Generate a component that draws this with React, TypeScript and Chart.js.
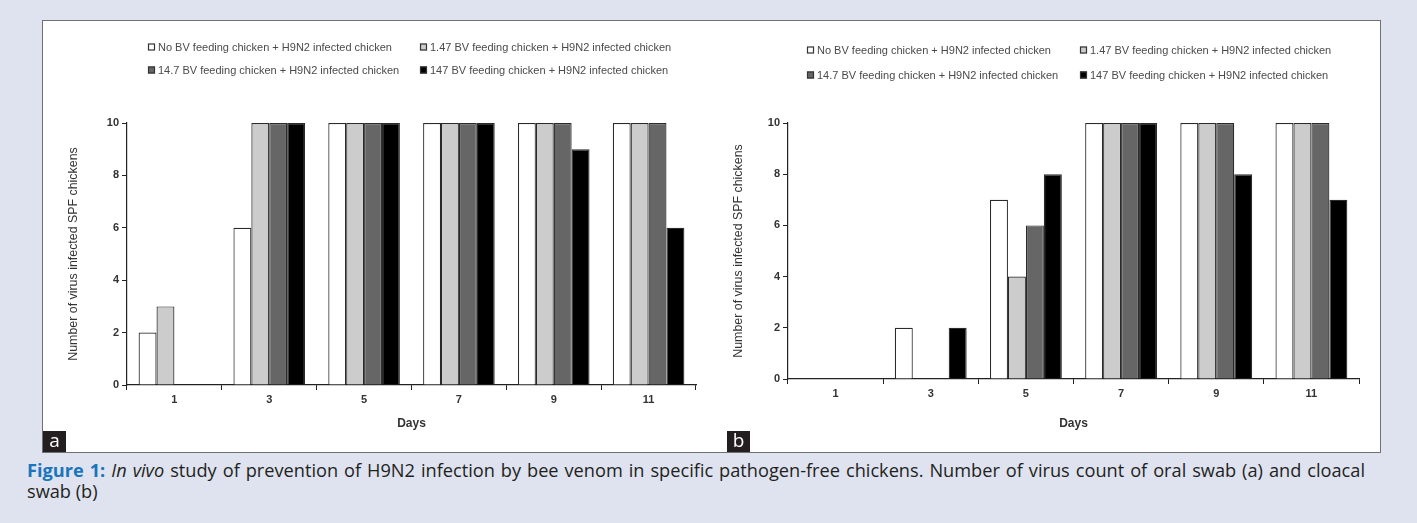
import React, { useEffect, useRef } from 'react';
import { Chart, registerables } from 'chart.js';

Chart.register(...registerables);

// ---------- data ----------
const days = ['1', '3', '5', '7', '9', '11'];
const seriesNames = [
  'No BV feeding chicken + H9N2 infected chicken',
  '1.47 BV feeding chicken + H9N2 infected chicken',
  '14.7 BV feeding chicken + H9N2 infected chicken',
  '147 BV feeding chicken + H9N2 infected chicken',
];
const seriesColors = ['#ffffff', '#cccccc', '#666666', '#000000'];

// (a) oral swab
const oralNoBV = [2, 6, 10, 10, 10, 10];
const oralBV1_47 = [3, 10, 10, 10, 10, 10];
const oralBV14_7 = [0, 10, 10, 10, 10, 10];
const oralBV147 = [0, 10, 10, 10, 9, 6];

// (b) cloacal swab
const cloacalNoBV = [0, 2, 7, 10, 10, 10];
const cloacalBV1_47 = [0, 0, 4, 10, 10, 10];
const cloacalBV14_7 = [0, 0, 6, 10, 10, 10];
const cloacalBV147 = [0, 2, 8, 10, 8, 7];

const yMin = 0;
const yMax = 10;
const yStep = 2;

const yTitle = 'Number of virus infected SPF chickens';
const xTitle = 'Days';

const FONT = '"Liberation Sans", Arial, sans-serif';

// custom 2x2 legend drawn by a Chart.js plugin
const gridLegend = {
  id: 'gridLegend',
  afterDraw(chart: any, _args: any, opts: any) {
    const ctx = chart.ctx;
    ctx.save();
    ctx.font = `${opts.fontSize}px ${FONT}`;
    ctx.textBaseline = 'middle';
    ctx.textAlign = 'left';
    chart.data.datasets.forEach((ds: any, i: number) => {
      const col = i % 2;
      const row = Math.floor(i / 2);
      const x = opts.xs[col];
      const y = opts.ys[row];
      const s = 7;
      ctx.fillStyle = ds.backgroundColor;
      ctx.fillRect(x, y - s / 2, s, s);
      ctx.strokeStyle = '#333';
      ctx.lineWidth = 1.2;
      ctx.strokeRect(x + 0.5, y - s / 2 + 0.5, s - 1, s - 1);
      ctx.fillStyle = '#4a4a4a';
      ctx.fillText(ds.label, x + s + 3, y + 0.5);
    });
    ctx.restore();
  },
};

type PanelCfg = {
  values: number[][];
  width: number;
  height: number;
  plotLeft: number;
  plotRight: number;
  plotTop: number;
  plotBottom: number;
  yTitlePad: number;
  legendXs: number[];
  legendYs: number[];
};

function Panel({ cfg }: { cfg: PanelCfg }) {
  const ref = useRef<HTMLCanvasElement | null>(null);
  useEffect(() => {
    if (!ref.current) return;
    const chart = new Chart(ref.current, {
      type: 'bar',
      data: {
        labels: days,
        datasets: cfg.values.map((v, i) => ({
          label: seriesNames[i],
          data: v,
          backgroundColor: seriesColors[i],
          borderColor: '#2a2a2a',
          borderWidth: 1.2,
          barPercentage: 1,
          categoryPercentage: 0.755,
        })),
      },
      options: {
        animation: false,
        responsive: false,
        devicePixelRatio: 1,
        layout: {
          padding: {
            left: 0,
            top: cfg.plotTop,
            right: cfg.width - cfg.plotRight,
            bottom: 0,
          },
        },
        plugins: {
          legend: { display: false },
          tooltip: { enabled: false },
          gridLegend: { xs: cfg.legendXs, ys: cfg.legendYs, fontSize: 11 },
        } as any,
        scales: {
          x: {
            offset: true,
            grid: {
              offset: true,
              drawOnChartArea: false,
              drawTicks: true,
              tickLength: 5,
              color: '#222',
              lineWidth: 1,
            },
            border: { display: true, color: '#222', width: 1.2 },
            ticks: {
              color: '#333',
              padding: 3,
              font: { family: FONT, size: 11, weight: 'bold' },
            },
            title: {
              display: true,
              text: xTitle,
              color: '#333',
              font: { family: FONT, size: 12, weight: 'bold' },
              padding: { top: 0, bottom: 21 },
            },
            afterFit(scale: any) {
              scale.height = cfg.height - cfg.plotBottom;
            },
          },
          y: {
            min: yMin,
            max: yMax,
            grid: {
              drawOnChartArea: false,
              drawTicks: true,
              tickLength: 5,
              color: '#222',
              lineWidth: 1,
            },
            border: { display: true, color: '#222', width: 1.2 },
            ticks: {
              stepSize: yStep,
              color: '#333',
              padding: 3,
              font: { family: FONT, size: 11, weight: 'bold' },
            },
            title: {
              display: true,
              text: yTitle,
              color: '#333',
              font: { family: FONT, size: 12.4 },
              padding: { top: cfg.yTitlePad, bottom: 0 },
            },
            afterFit(scale: any) {
              scale.width = cfg.plotLeft;
            },
          },
        },
      },
      plugins: [gridLegend as any],
    });
    return () => chart.destroy();
  }, [cfg]);
  return <canvas ref={ref} width={cfg.width} height={cfg.height} style={{ display: 'block', width: cfg.width, height: cfg.height }} />;
}

const panelA: PanelCfg = {
  values: [oralNoBV, oralBV1_47, oralBV14_7, oralBV147],
  width: 684,
  height: 431,
  plotLeft: 84,
  plotRight: 653,
  plotTop: 102,
  plotBottom: 364,
  yTitlePad: 23,
  legendXs: [105, 377],
  legendYs: [26, 49],
};

const panelB: PanelCfg = {
  values: [cloacalNoBV, cloacalBV1_47, cloacalBV14_7, cloacalBV147],
  width: 652,
  height: 431,
  plotLeft: 61,
  plotRight: 632,
  plotTop: 102,
  plotBottom: 358,
  yTitlePad: 4,
  legendXs: [80, 353],
  legendYs: [29, 54],
};

const tagStyle: React.CSSProperties = {
  position: 'absolute',
  width: 23,
  height: 21,
  background: '#231f20',
  color: '#fff',
  fontFamily: '"Open Sans", "Noto Sans", sans-serif',
  fontSize: 19,
  lineHeight: '19px',
  textAlign: 'center',
};

export default function App() {
  return (
    <div
      style={{
        position: 'absolute',
        left: 0,
        top: 0,
        width: 1417,
        height: 523,
        background: '#dfe3f0',
        overflow: 'hidden',
      }}
    >
      <div
        style={{
          position: 'absolute',
          left: 42,
          top: 20,
          width: 1337,
          height: 431,
          background: '#fff',
          border: '1px solid #707070',
        }}
      />
      <div style={{ position: 'absolute', left: 43, top: 21 }}>
        <Panel cfg={panelA} />
      </div>
      <div style={{ position: 'absolute', left: 727, top: 21 }}>
        <Panel cfg={panelB} />
      </div>
      <div style={{ ...tagStyle, left: 43, top: 431 }}>a</div>
      <div style={{ ...tagStyle, left: 727, top: 431 }}>b</div>
      <div
        style={{
          position: 'absolute',
          left: 27,
          top: 460,
          width: 1338,
          fontFamily: '"Open Sans", "Noto Sans", sans-serif',
          fontSize: 18.2,
          lineHeight: '21px',
          color: '#231f20',
          whiteSpace: 'nowrap',
        }}
      >
        <div style={{ textAlign: 'justify', textAlignLast: 'justify', whiteSpace: 'normal' }}>
          <span style={{ color: '#1a75bb', fontWeight: 'bold' }}>Figure 1:</span>{' '}
          <i>In vivo</i> study of prevention of H9N2 infection by bee venom in specific pathogen-free chickens. Number of
          virus count of oral swab (a) and cloacal
        </div>
        <div>swab (b)</div>
      </div>
    </div>
  );
}
